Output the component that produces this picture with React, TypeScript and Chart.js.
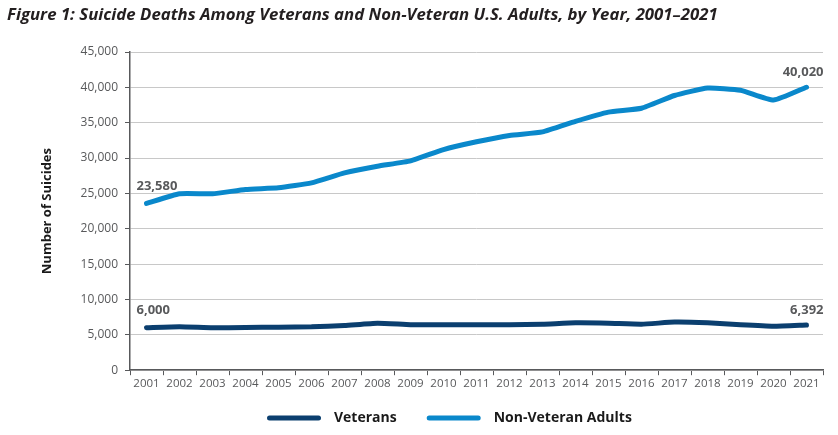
import React, { useEffect, useRef } from "react";
import { Chart, registerables } from "chart.js";

Chart.register(...registerables);

const years = [
  "2001", "2002", "2003", "2004", "2005", "2006", "2007", "2008", "2009", "2010", "2011",
  "2012", "2013", "2014", "2015", "2016", "2017", "2018", "2019", "2020", "2021",
];
const veterans = [
  6000, 6130, 6000, 6040, 6080, 6130, 6320, 6650, 6440, 6440, 6420,
  6420, 6510, 6700, 6650, 6510, 6800, 6700, 6420, 6220, 6392,
];
const nonVeterans = [
  23580, 24950, 24950, 25560, 25800, 26500, 27900, 28850, 29600, 31200, 32300,
  33200, 33700, 35200, 36500, 37050, 38850, 39900, 39600, 38200, 40020,
];
const yTicks = [0, 5000, 10000, 15000, 20000, 25000, 30000, 35000, 40000, 45000];

const TITLE = "Figure 1: Suicide Deaths Among Veterans and Non-Veteran U.S. Adults, by Year, 2001–2021";
const FONT = "'Open Sans', 'DejaVu Sans', sans-serif";

const fmt = (v: number) => v.toLocaleString("en-US");

const endLabels = {
  id: "endLabels",
  afterDatasetsDraw(chart: any) {
    const ctx = chart.ctx;
    ctx.save();
    ctx.font = `bold 13px ${FONT}`;
    ctx.fillStyle = "#58595b";
    ctx.textBaseline = "middle";
    chart.data.datasets.forEach((ds: any, i: number) => {
      const meta = chart.getDatasetMeta(i);
      const pts = meta.data;
      const first = pts[0];
      const last = pts[pts.length - 1];
      ctx.textAlign = "left";
      ctx.fillText(fmt(ds.data[0]), first.x - 10, first.y - 17);
      ctx.textAlign = "right";
      ctx.fillText(fmt(ds.data[ds.data.length - 1]), last.x + 17, last.y - 15);
    });
    ctx.restore();
  },
};

const titleAndLegend = {
  id: "titleAndLegend",
  afterDraw(chart: any) {
    const ctx = chart.ctx;
    ctx.save();
    // title
    ctx.font = `italic bold 16.8px ${FONT}`;
    ctx.fillStyle = "#231f20";
    ctx.textAlign = "left";
    ctx.textBaseline = "middle";
    ctx.fillText(TITLE, 7, 15);
    // legend
    ctx.font = `bold 14px ${FONT}`;
    const sw = 54;
    const gapText = 13;
    const gapItem = 30;
    const items = chart.data.datasets.map((ds: any) => ({
      label: ds.label,
      color: ds.borderColor,
      w: ctx.measureText(ds.label).width,
    }));
    let x = 267;
    const y = 418;
    items.forEach((it: any) => {
      ctx.strokeStyle = it.color;
      ctx.lineWidth = 5;
      ctx.lineCap = "round";
      ctx.beginPath();
      ctx.moveTo(x + 2.5, y);
      ctx.lineTo(x + sw - 2.5, y);
      ctx.stroke();
      ctx.fillStyle = "#1a1a1a";
      ctx.fillText(it.label, x + sw + gapText, y);
      x += sw + gapText + it.w + gapItem;
    });
    ctx.restore();
  },
};

export default function App() {
  const ref = useRef<HTMLCanvasElement | null>(null);
  useEffect(() => {
    if (!ref.current) return;
    const chart = new Chart(ref.current, {
      type: "line",
      data: {
        labels: years,
        datasets: [
          {
            label: "Veterans",
            data: veterans,
            borderColor: "#0b3f6f",
            backgroundColor: "#0b3f6f",
            borderWidth: 5,
            pointRadius: 0,
            tension: 0.15,
            borderCapStyle: "round",
            borderJoinStyle: "round",
          },
          {
            label: "Non-Veteran Adults",
            data: nonVeterans,
            borderColor: "#0a88cb",
            backgroundColor: "#0a88cb",
            borderWidth: 5,
            pointRadius: 0,
            tension: 0.15,
            borderCapStyle: "round",
            borderJoinStyle: "round",
          },
        ],
      },
      options: {
        animation: false,
        responsive: false,
        maintainAspectRatio: false,
        layout: { padding: { left: 0, right: 15, top: 52, bottom: 42 } },
        plugins: {
          title: { display: false },
          legend: { display: false },
          tooltip: { enabled: false },
        },
        scales: {
          x: {
            offset: true,
            grid: {
              offset: true,
              drawOnChartArea: false,
              drawTicks: true,
              tickLength: 5,
              tickColor: "#58595b",
            },
            border: { display: true, color: "#58595b", width: 1.5 },
            ticks: {
              color: "#58595b",
              font: { family: FONT, size: 11.5 },
              padding: 2,
              maxRotation: 0,
              autoSkip: false,
            },
          },
          y: {
            min: 0,
            max: 45000,
            afterBuildTicks: (scale: any) => {
              scale.ticks = yTicks.map((v) => ({ value: v }));
            },
            afterFit: (scale: any) => {
              scale.width = 130;
            },
            grid: {
              color: "#c8c8c8",
              lineWidth: 1,
              tickLength: 5,
              tickColor: "#58595b",
            },
            border: { display: true, color: "#58595b", width: 1.5 },
            ticks: {
              color: "#58595b",
              font: { family: FONT, size: 12 },
              padding: 7,
              callback: (v: any) => fmt(Number(v)),
            },
            title: {
              display: true,
              text: "Number of Suicides",
              color: "#1a1a1a",
              font: { family: FONT, size: 13, weight: "bold" },
              padding: { top: 39, bottom: 0 },
            },
          },
        },
      },
      plugins: [endLabels, titleAndLegend],
    });
    return () => chart.destroy();
  }, []);
  return (
    <div style={{ position: "fixed", left: 0, top: 0, width: 838, height: 435, background: "#fff" }}>
      <canvas ref={ref} width={838} height={435} style={{ width: 838, height: 435 }} />
    </div>
  );
}
